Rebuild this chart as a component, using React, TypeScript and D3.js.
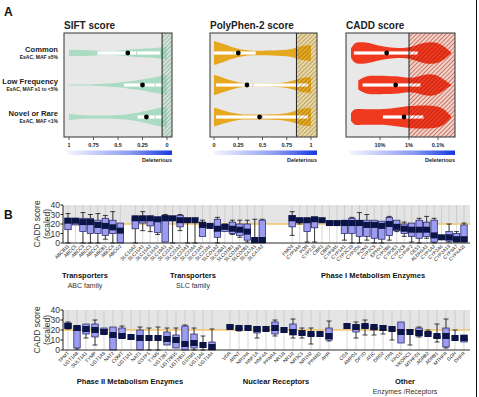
import React from 'react'
import * as d3 from 'd3'

const W = 479
const H = 397
const font = 'Liberation Sans, Arial, Helvetica, sans-serif'

// ---------- Panel A data ----------
const rowLabels = ['Common', 'Low Frequency', 'Novel or Rare']
const rowSubLabels = ['ExAC, MAF \u22655%', 'ExAC, MAF \u22651 to <5%', 'ExAC, MAF <1%']

const unitGrid = [0, 0.1, 0.2, 0.3, 0.4, 0.5, 0.6, 0.7, 0.8, 0.9, 1]

// relative violin density along unitGrid
const siftDensity = [
  [0.6, 0.5, 0.42, 0.38, 0.32, 0.2, 0.14, 0.2, 0.28, 0.3, 0.3],
  [0.95, 0.8, 0.6, 0.45, 0.32, 0.22, 0.14, 0.08, 0.05, 0.04, 0.04],
  [1.0, 0.85, 0.6, 0.4, 0.25, 0.18, 0.15, 0.13, 0.14, 0.18, 0.3],
]
const siftBox = [[0.07, 0.31, 0.71], [0.04, 0.12, 0.44], [0.04, 0.12, 0.3]]
const siftMean = [0.4, 0.25, 0.21]
const siftTicks = [1, 0.75, 0.5, 0.25, 0]

const polyDensity = [
  [1.0, 0.75, 0.45, 0.25, 0.18, 0.2, 0.2, 0.25, 0.3, 0.6, 0.65],
  [0.85, 0.6, 0.3, 0.15, 0.12, 0.12, 0.13, 0.18, 0.3, 0.6, 0.65],
  [0.8, 0.55, 0.3, 0.2, 0.2, 0.2, 0.22, 0.25, 0.4, 0.7, 0.75],
]
const polyBox = [[0.0, 0.2, 0.43], [0.02, 0.4, 0.97], [0.02, 0.5, 0.97]]
const polyMean = [0.25, 0.34, 0.47]
const polyTicks = [0, 0.25, 0.5, 0.75, 1]

const caddGrid = [0, 1, 2.5, 5, 7.5, 10, 12.5, 15, 17.5, 20, 22.5, 25, 27.5, 30, 32.5, 34.5]
const caddDensity = [
  [0.35, 0.75, 0.85, 0.82, 0.7, 0.55, 0.45, 0.4, 0.38, 0.42, 0.6, 0.78, 0.85, 0.8, 0.45, 0.05],
  [0, 0, 0.35, 0.68, 0.72, 0.72, 0.7, 0.68, 0.62, 0.52, 0.6, 0.8, 0.85, 0.75, 0.35, 0.03],
  [0.3, 0.6, 0.62, 0.6, 0.6, 0.6, 0.62, 0.68, 0.78, 0.85, 0.88, 0.88, 0.86, 0.82, 0.55, 0.05],
]
const caddBox = [[1, 12, 23], [4, 15, 24], [11, 18, 25]]
const caddMean = [12.3, 15.4, 18.3]
const caddTicks = [10, 20, 30]
const caddTickLabels = ['10%', '1%', '0.1%']

// ---------- Panel B data: [low whisker, q1, median, q3, high whisker] ----------
const abcNames = ['ABCB11', 'ABCC5', 'ABCC3', 'ABCC1', 'ABCC2', 'ABCB1', 'ABCC4', 'ABCG2']
const abcStats = [
  [0, 14, 23.5, 26, 31], [19, 19, 23.5, 24, 24], [0, 12, 22, 26, 32], [0, 10, 22, 26, 30],
  [0, 10, 19, 24, 31], [4, 8, 18, 26, 29], [0, 10, 16.5, 24, 33], [0, 0, 13, 21, 21],
]
const slcNames = ['SLC10A2', 'SLC15A1', 'SLC15A2', 'SLC16A1', 'SLC19A1', 'SLC22A1', 'SLC22A2', 'SLC22A3',
  'SLC22A4', 'SLC22A5', 'SLC22A6', 'SLCO1A2', 'SLC28A1', 'SLCO1B1', 'SLCO1B3', 'SLCO2B1', 'SLC47A1', 'SLC47A2']
const slcStats = [
  [0, 15, 26, 27, 27], [13, 21, 26, 28, 33], [12, 18, 26, 27, 28], [9, 11, 25, 26, 26],
  [1, 1, 26, 29, 30], [0, 26, 26, 26, 26], [13, 17, 24, 29, 30], [0, 24, 24, 25, 25],
  [0, 24, 24, 24, 24], [7, 7, 19, 22, 24], [17, 18, 18, 19, 19], [0, 6, 15, 25, 27],
  [12, 12, 17, 19, 20], [9, 10, 15, 22, 24], [6, 8, 14, 20, 24], [1, 3, 12, 20, 24],
  [0, 0, 3, 3, 25], [0, 0, 3, 24, 25],
]
const phase1Names = ['FMO3', 'CYP3A4', 'POR', 'CYP2J2', 'CBR1', 'CBR3', 'CYP3A5', 'CYP1A1', 'CYP2C19',
  'CYP2D6', 'PON1', 'CYP2C9', 'EPHX1', 'CYP2B6', 'CYP2E1', 'CYP2C8', 'CYP4F2', 'CES1', 'ALDH1A1',
  'CYP1A2', 'CYP2A6', 'CYP2A13', 'CYP3A7', 'CYP4A11']
const phase1Stats = [
  [8, 17, 26, 29, 33], [20, 22, 24, 25, 25], [1, 12, 24, 26, 26], [1, 16, 25, 27, 27],
  [23, 23, 24, 24, 24], [21, 21, 21, 21, 21], [21, 21, 21, 22, 22], [3, 10, 21, 24, 24],
  [0, 10, 21, 26, 27], [0, 7, 21, 24, 32], [3, 7, 19, 24, 30], [0, 5, 19, 24, 24],
  [0, 4, 18, 23, 23], [3, 8, 20, 27, 28], [12, 13, 17, 24, 24], [7, 10, 15, 20, 22],
  [1, 7, 14, 21, 21], [0, 5, 14, 24, 26], [5, 7, 14, 22, 28], [0, 1, 8, 24, 26],
  [6, 6, 6, 6, 6], [1, 2, 6, 12, 20], [1, 1, 4, 10, 12], [1, 1, 4, 19, 21],
]

const phase2Names = ['TPMT', 'UGT1A8', 'SULT1A1', 'TYMP', 'UGT1A9', 'NAT2', 'COMT', 'UGT1A1', 'NAT1',
  'GSTP1', 'TYMS', 'UGT2B7', 'UGT2B15', 'UGT2B17', 'GSTM1', 'UGT1A6', 'UGT1A4']
const phase2Stats = [
  [21, 22, 24, 27, 28], [1, 2, 22, 24, 24], [12, 16, 21, 26, 26], [5, 13, 20, 26, 30],
  [16, 16, 18, 22, 22], [0, 0, 15, 23, 23], [12, 12, 14, 22, 24], [13, 13, 13, 13, 13],
  [0, 0, 12, 20, 23], [0, 12, 12, 12, 22], [0, 12, 12, 12, 23], [5, 5, 11, 18, 22],
  [2, 2, 10, 15, 22], [0, 0, 6, 24, 25], [0, 2, 7, 16, 22], [0, 5, 5, 5, 14], [0, 0, 3, 8, 21],
]
const nrNames = ['VDR', 'ARNT', 'NR1H4', 'HNF1A', 'HNF4A', 'PPARA', 'NR1I3', 'NR1I2', 'NR3C1', 'NR1H2', 'PPARG', 'AHR']
const nrStats = [
  [23, 23, 23, 24, 24], [19, 21, 22, 22, 22], [22, 22, 22, 22, 22], [12, 17, 21, 23, 23],
  [21, 21, 21, 21, 21], [14, 16, 22, 28, 30], [20, 20, 20, 20, 20], [12, 15, 18, 26, 31],
  [12, 16, 17, 17, 22], [6, 15, 16, 16, 22], [16, 16, 16, 16, 16], [9, 10, 14, 22, 29],
]
const otherNames = ['CDA', 'AMPD1', 'DPYD', 'ATIC', 'DRD2', 'ITPA', 'FPGS', 'VKORC1', 'MTHFD1', 'ADRB2',
  'ADRB1', 'MTHFR', 'GGH', 'DHFR']
const otherStats = [
  [24, 24, 24, 24, 24], [12, 18, 23, 25, 28], [15, 22, 24, 25, 30], [15, 20, 23, 23, 24],
  [16, 22, 22, 22, 22], [10, 21, 21, 21, 21], [7, 7, 18, 28, 28], [5, 18, 18, 18, 18],
  [13, 14, 17, 22, 23], [15, 16, 16, 17, 20], [8, 12, 14, 14, 26], [2, 3, 14, 22, 31],
  [12, 12, 12, 12, 20], [8, 8, 12, 15, 15],
]
const yTicks = [0, 10, 20, 30, 40]
const threshold = 20

// ---------- Panel A ----------
const rowY = [53, 85, 117]

function ViolinPanel({ id, title, left, right, x, grid, density, boxes, means, ticks, tickLabels,
  hatchFrom, fill, hatchBg, hatchLine, scaleH }) {
  const top = 33, bottom = 137
  const h = d3.scaleLinear().domain([0, 1]).range([0, scaleH])
  const area = d3.area<[number, number]>()
    .defined(d => d[1] > 0)
    .x(d => x(d[0]))
    .y0(d => -h(d[1]))
    .y1(d => h(d[1]))
    .curve(d3.curveBasis)
  const hx = x(hatchFrom)
  return (
    <g>
      <defs>
        <pattern id={id} patternUnits="userSpaceOnUse" width={3} height={3} patternTransform="rotate(45)">
          <line x1={0} y1={0} x2={0} y2={3} stroke={hatchLine} strokeWidth={1.3} />
        </pattern>
      </defs>
      <text x={left} y={29} fontSize={10} fontWeight="bold" fill="#222">{title}</text>
      <rect x={left} y={top} width={right - left} height={bottom - top} fill="#e8e8e8" />
      <rect x={hx} y={top} width={right - hx} height={bottom - top} fill={hatchBg} />
      {rowY.map((cy, i) => {
        const pts = grid.map((g, j) => [g, density[i][j]] as [number, number])
        const [q1, med, q3] = boxes[i]
        return (
          <g key={i} transform={`translate(0,${cy})`}>
            <path d={area(pts) || ''} fill={fill} />
            <rect x={Math.min(x(q1), x(q3))} y={-1.6} width={Math.abs(x(q3) - x(q1))} height={3.2} fill="#fff" />
            <line x1={x(med)} x2={x(med)} y1={-1.6} y2={1.6} stroke="#bbb" strokeWidth={0.8} />
            <circle cx={x(means[i])} cy={0} r={2.4} fill="#000" />
          </g>
        )
      })}
      <rect x={hx} y={top} width={right - hx} height={bottom - top} fill={`url(#${id})`} />
      <line x1={hx} x2={hx} y1={top} y2={bottom} stroke="#222" strokeWidth={1} />
      <rect x={left} y={top} width={right - left} height={bottom - top} fill="none" stroke="#333" strokeWidth={1} />
      {ticks.map((t, i) => (
        <g key={i}>
          <line x1={x(t)} x2={x(t)} y1={bottom} y2={bottom + 3} stroke="#333" strokeWidth={0.8} />
          <text x={x(t)} y={146.5} fontSize={5.5} fontWeight="bold" textAnchor="middle" fill="#222">{tickLabels[i]}</text>
        </g>
      ))}
      <rect x={left + 3} y={150.5} width={right - left - 3} height={4.5} fill="url(#delGrad)" />
      <text x={right} y={161.5} fontSize={5.5} fontWeight="bold" textAnchor="end" fill="#222">Deleterious</text>
    </g>
  )
}

// ---------- Panel B ----------
function BoxRow({ top, bottom, groups, maxSlot, groupLabels }) {
  const y = d3.scaleLinear().domain([0, 40]).range([bottom, top])
  const x = d3.scaleLinear().domain([0, maxSlot]).range([68, 464])
  const axisX = 63
  const rightX = 470
  const bw = 6.4
  const items = groups.flatMap(g => g.names.map((n, i) => ({ name: n, s: g.stats[i], slot: g.start + i })))
  const mid = (top + bottom) / 2
  return (
    <g>
      <rect x={axisX} y={y(40)} width={rightX - axisX} height={y(threshold) - y(40)} fill="#e4e4e4" />
      {items.map(d => (
        <line key={'g' + d.name} x1={x(d.slot)} x2={x(d.slot)} y1={y(40)} y2={y(0)} stroke="#bdbdbd" strokeWidth={0.6} />
      ))}
      <line x1={axisX} x2={rightX} y1={y(threshold)} y2={y(threshold)} stroke="#f0c66a" strokeWidth={1.6} />
      {items.map(d => {
        const cx = x(d.slot)
        const [lo, q1, med, q3, hi] = d.s
        return (
          <g key={d.name}>
            {hi > q3 && <line x1={cx} x2={cx} y1={y(hi)} y2={y(q3)} stroke="#111" strokeWidth={0.8} />}
            {lo < q1 && <line x1={cx} x2={cx} y1={y(q1)} y2={y(lo)} stroke="#111" strokeWidth={0.8} />}
            {hi > q3 && <line x1={cx - 2.5} x2={cx + 2.5} y1={y(hi)} y2={y(hi)} stroke="#111" strokeWidth={0.8} />}
            {lo < q1 && <line x1={cx - 2.5} x2={cx + 2.5} y1={y(lo)} y2={y(lo)} stroke="#111" strokeWidth={0.8} />}
            {q3 > q1 && <rect x={cx - bw / 2} y={y(q3)} width={bw} height={y(q1) - y(q3)} fill="#9c9cf0" stroke="#1a1a5c" strokeWidth={0.7} />}
            <rect x={cx - 3.6} y={Math.min(y(med) - 3, y(0) - 6)} width={7.2} height={6} fill="#0b1446" />
            <text transform={`translate(${cx + 1.5},${bottom + 3.5}) rotate(-45)`} textAnchor="end" fontSize={4.8} fill="#222">{d.name}</text>
          </g>
        )
      })}
      <line x1={axisX} x2={rightX} y1={y(0)} y2={y(0)} stroke="#111" strokeWidth={0.9} />
      <line x1={axisX} x2={axisX} y1={y(40)} y2={y(0)} stroke="#111" strokeWidth={0.9} />
      {yTicks.map(t => (
        <g key={t}>
          <line x1={axisX - 2.5} x2={axisX} y1={y(t)} y2={y(t)} stroke="#111" strokeWidth={0.9} />
          <text x={axisX - 3} y={y(t) + 3} fontSize={8.5} textAnchor="end" fill="#333">{t}</text>
        </g>
      ))}
      <text transform={`translate(40,${mid}) rotate(-90)`} fontSize={8.5} textAnchor="middle" fill="#333">CADD score</text>
      <text transform={`translate(50,${mid}) rotate(-90)`} fontSize={8.5} textAnchor="middle" fill="#333">(scaled)</text>
      {groupLabels.map((g, i) => (
        <g key={i}>
          <text x={g.x} y={g.y} fontSize={7.5} fontWeight="bold" textAnchor="middle" fill="#111">{g.title}</text>
          {g.sub && <text x={g.x} y={g.y + 10} fontSize={7} textAnchor="middle" fill="#333">{g.sub}</text>}
        </g>
      ))}
    </g>
  )
}

export default function App() {
  const siftX = d3.scaleLinear().domain([1, 0]).range([69, 167])
  const polyX = d3.scaleLinear().domain([0, 1]).range([214, 311])
  const caddX = d3.scaleLinear().domain([10, 30]).range([380, 438])

  return (
    <svg width={W} height={H} style={{ position: 'absolute', left: 0, top: 0, background: '#fff' }} fontFamily={font}>
      <defs>
        <linearGradient id="delGrad" x1="0" x2="1" y1="0" y2="0">
          <stop offset="0" stopColor="#f6f6ff" />
          <stop offset="0.6" stopColor="#8c9cf0" />
          <stop offset="1" stopColor="#1638e0" />
        </linearGradient>
      </defs>
      <text x={4} y={16} fontSize={12} fontWeight="bold" fill="#111">A</text>
      {rowY.map((cy, i) => (
        <g key={i}>
          <text x={58} y={cy - 1} fontSize={7.6} fontWeight="bold" textAnchor="end" fill="#222">{rowLabels[i]}</text>
          <text x={58} y={cy + 6} fontSize={5} fontWeight="bold" textAnchor="end" fill="#222">{rowSubLabels[i]}</text>
        </g>
      ))}
      <ViolinPanel id="hSift" title="SIFT score" left={64} right={172} x={siftX} grid={unitGrid}
        density={siftDensity} boxes={siftBox} means={siftMean} ticks={siftTicks}
        tickLabels={siftTicks.map(String)} hatchFrom={0.05} fill="#a9dcc3"
        hatchBg="#d3e3da" hatchLine="rgba(80,115,95,0.55)" scaleH={10.5} />
      <ViolinPanel id="hPoly" title="PolyPhen-2 score" left={210} right={317} x={polyX} grid={unitGrid}
        density={polyDensity} boxes={polyBox} means={polyMean} ticks={polyTicks}
        tickLabels={polyTicks.map(String)} hatchFrom={0.85} fill="#e5a81f"
        hatchBg="#e9d8a6" hatchLine="rgba(110,80,10,0.6)" scaleH={12} />
      <ViolinPanel id="hCadd" title="CADD score" left={346} right={455} x={caddX} grid={caddGrid}
        density={caddDensity} boxes={caddBox} means={caddMean} ticks={caddTicks}
        tickLabels={caddTickLabels} hatchFrom={20} fill="#ef3a20"
        hatchBg="#f3d2c8" hatchLine="rgba(150,10,0,0.7)" scaleH={13} />

      <text x={4} y={219} fontSize={12} fontWeight="bold" fill="#111">B</text>
      <BoxRow top={205} bottom={243} maxSlot={53}
        groups={[
          { names: abcNames, stats: abcStats, start: 0 },
          { names: slcNames, stats: slcStats, start: 9 },
          { names: phase1Names, stats: phase1Stats, start: 30 },
        ]}
        groupLabels={[
          { x: 85, y: 278, title: 'Transporters', sub: 'ABC family' },
          { x: 193, y: 278, title: 'Transporters', sub: 'SLC family' },
          { x: 373, y: 278, title: 'Phase I Metabolism Enzymes' },
        ]} />
      <BoxRow top={310} bottom={350} maxSlot={44}
        groups={[
          { names: phase2Names, stats: phase2Stats, start: 0 },
          { names: nrNames, stats: nrStats, start: 18 },
          { names: otherNames, stats: otherStats, start: 31 },
        ]}
        groupLabels={[
          { x: 130, y: 384, title: 'Phase II Metabolism Enzymes' },
          { x: 276, y: 384, title: 'Nuclear Receptors' },
          { x: 405, y: 384, title: 'Other', sub: 'Enzymes /Receptors' },
        ]} />
      <line x1={476.5} x2={476.5} y1={0} y2={H} stroke="#111" strokeWidth={1} />
    </svg>
  )
}
